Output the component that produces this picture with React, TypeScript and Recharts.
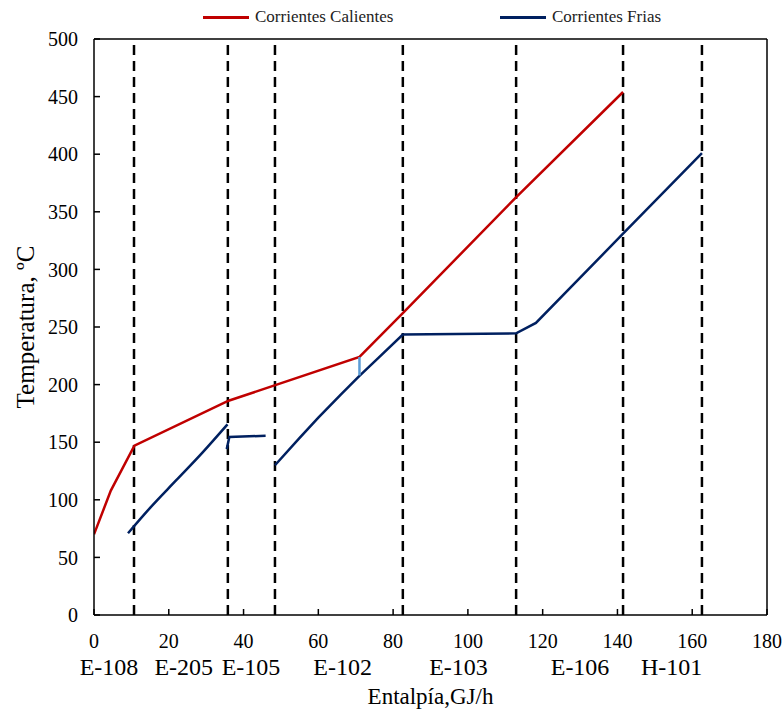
import { ComposedChart, Line, XAxis, YAxis, ReferenceLine } from "recharts";

// Curva compuesta caliente (entalpia GJ/h, temperatura C)
const hotH = [0, 4.5, 10.8, 36, 71, 82.6, 113, 141.5];
const hotT = [70, 108, 147, 186, 224, 262, 363, 454];

// Curva compuesta fria, en tres tramos
const cold1H = [9.1, 15, 22, 29, 35.7];
const cold1T = [71, 93, 117, 141, 165.5];
const cold2H = [35.5, 36.2, 45.9];
const cold2T = [144, 154.5, 155.6];
const cold3H = [48.4, 55, 60, 66, 71, 76, 82.6, 112.9, 118.2, 141.5, 162.6];
const cold3T = [130, 153.8, 171.3, 191.4, 207.5, 223, 243.5, 244.5, 253.5, 331, 401];

// tramo de union a 71 GJ/h
const linkH = [71, 71];
const linkT = [224, 208];

// limites de intercambiadores
const dividers = [10.7, 35.8, 48.4, 82.6, 112.9, 141.5, 162.6];
const equipPos = [4, 24, 42, 66.5, 97.5, 130, 154.5];
const equipNames = ["E-108", "E-205", "E-105", "E-102", "E-103", "E-106", "H-101"];

const xTicks = [0, 20, 40, 60, 80, 100, 120, 140, 160, 180];
const yTicks = [0, 50, 100, 150, 200, 250, 300, 350, 400, 450, 500];

const HOT = "#C00000";
const COLD = "#002060";
const LINK = "#5B9BD5";
const FONT = "'Liberation Serif', 'Times New Roman', serif";

const toPts = (h: number[], t: number[]) => h.map((v, i) => ({ h: v, t: t[i] }));

const hot = toPts(hotH, hotT);
const cold1 = toPts(cold1H, cold1T);
const cold2 = toPts(cold2H, cold2T);
const cold3 = toPts(cold3H, cold3T);
const link = toPts(linkH, linkT);

function LegendItem({ color, label, x }: { color: string; label: string; x: number }) {
  return (
    <div style={{ position: "absolute", left: x, top: 7, display: "flex", alignItems: "center", fontFamily: FONT, fontSize: 17, color: "#222" }}>
      <div style={{ width: 46, height: 3, background: color, marginRight: 6 }} />
      <span>{label}</span>
    </div>
  );
}

export default function App() {
  const tickStyle = { fill: "#000", fontSize: 20, fontFamily: FONT };
  return (
    <div style={{ position: "absolute", left: 0, top: 0, width: 784, height: 709, background: "#fff" }}>
      <ComposedChart width={784} height={709} margin={{ top: 39, right: 17, bottom: 0, left: 0 }}>
        <XAxis
          dataKey="h"
          type="number"
          domain={[0, 180]}
          ticks={xTicks}
          allowDataOverflow
          height={40}
          tickSize={-6}
          tickMargin={25}
          tick={tickStyle}
          stroke="#000"
          strokeWidth={1.5}
        />
        <XAxis
          xAxisId="equip"
          dataKey="h"
          type="number"
          domain={[0, 180]}
          ticks={equipPos}
          height={54}
          tickSize={0}
          tickMargin={3}
          axisLine={false}
          tickLine={false}
          interval={0}
          tick={{ fill: "#000", fontSize: 24, fontFamily: FONT }}
          tickFormatter={(v: number) => equipNames[equipPos.indexOf(v)] ?? ""}
          label={{ value: "Entalpía,GJ/h", position: "insideBottom", offset: 5, fill: "#000", fontSize: 23, fontFamily: FONT }}
        />
        <YAxis
          type="number"
          domain={[0, 500]}
          ticks={yTicks}
          width={94}
          tickSize={-6}
          tickMargin={22}
          tick={tickStyle}
          stroke="#000"
          strokeWidth={1.5}
          label={{ value: "Temperatura, ºC", angle: -90, position: "insideLeft", offset: 25, style: { textAnchor: "middle" }, fill: "#000", fontSize: 25, fontFamily: FONT }}
        />
        <ReferenceLine y={500} stroke="#000" strokeWidth={1.5} />
        <ReferenceLine x={180} stroke="#000" strokeWidth={1.5} />
        {dividers.map((d) => (
          <ReferenceLine key={d} x={d} stroke="#000" strokeWidth={2.5} strokeDasharray="10 6" />
        ))}
        {/* serie invisible para que el eje de equipos tenga escala */}
        <Line xAxisId="equip" data={hot} dataKey="t" stroke="none" dot={false} activeDot={false} legendType="none" isAnimationActive={false} />
        <Line data={hot} dataKey="t" type="linear" stroke={HOT} strokeWidth={2.5} dot={false} isAnimationActive={false} />
        <Line data={cold1} dataKey="t" type="monotone" stroke={COLD} strokeWidth={2.5} dot={false} isAnimationActive={false} />
        <Line data={cold2} dataKey="t" type="linear" stroke={COLD} strokeWidth={2.5} dot={false} isAnimationActive={false} />
        <Line data={cold3} dataKey="t" type="linear" stroke={COLD} strokeWidth={2.5} dot={false} isAnimationActive={false} />
        <Line data={link} dataKey="t" type="linear" stroke={LINK} strokeWidth={2.5} dot={false} isAnimationActive={false} />
      </ComposedChart>
      <LegendItem color={HOT} label="Corrientes Calientes" x={203} />
      <LegendItem color={COLD} label="Corrientes Frias" x={500} />
    </div>
  );
}
